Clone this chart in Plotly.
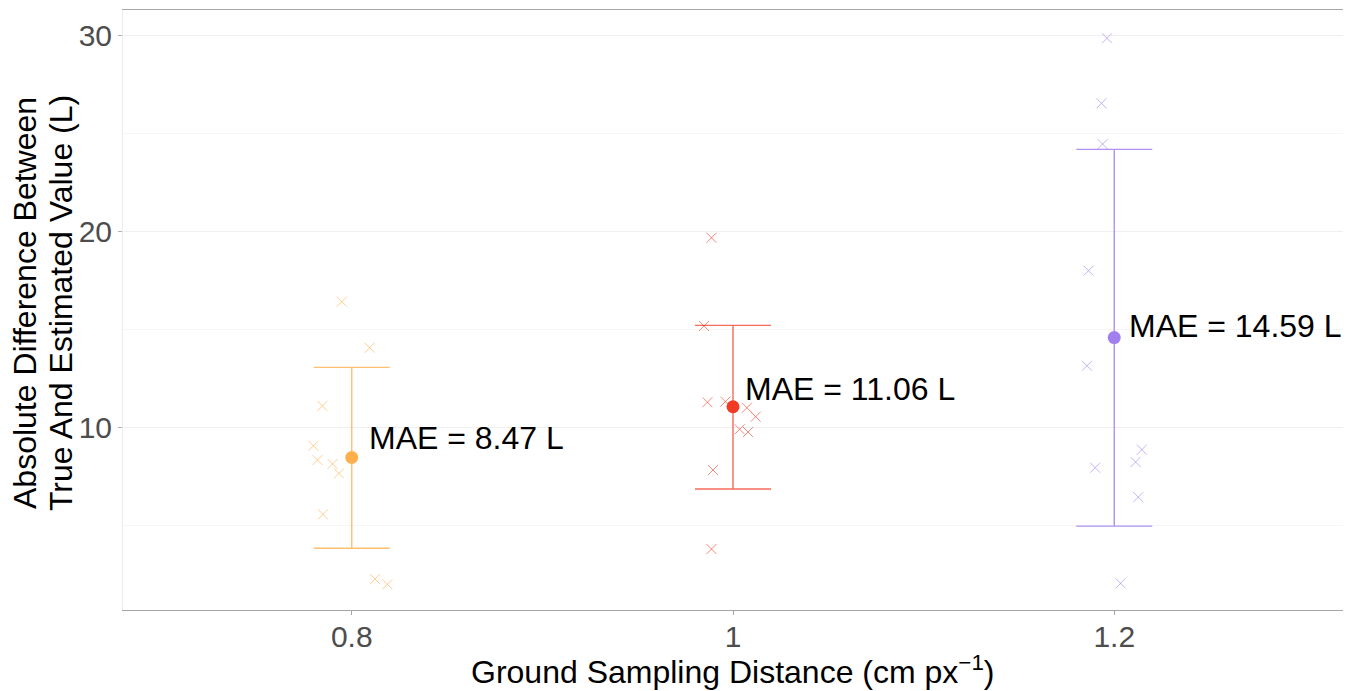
import plotly.graph_objects as go

# ---- data ----
gsd = [0.8, 1.0, 1.2]
mae = [8.47, 11.06, 14.59]
bar_lo = [3.84, 6.86, 4.97]
bar_hi = [13.07, 15.21, 24.19]
mae_labels = ["MAE = 8.47 L", "MAE = 11.06 L", "MAE = 14.59 L"]

err_08 = [16.42, 14.07, 11.10, 9.07, 8.34, 8.14, 7.66, 5.57, 2.27, 2.00]
jit_08 = [-0.0052, 0.0094, -0.0154, -0.0201, -0.0180, -0.0101, -0.0067, -0.0151, 0.0122, 0.0187]
err_10 = [19.68, 15.18, 11.29, 11.32, 11.01, 10.55, 9.91, 9.77, 7.83, 3.80]
jit_10 = [-0.0113, -0.0152, -0.0134, -0.0040, 0.0073, 0.0119, 0.0035, 0.0079, -0.0105, -0.0113]
err_12 = [29.86, 26.54, 24.46, 18.00, 13.15, 8.87, 8.24, 7.95, 6.45, 2.05]
jit_12 = [-0.0038, -0.0067, -0.0061, -0.0135, -0.0143, 0.0145, 0.0112, -0.0100, 0.0126, 0.0033]

y_ticks = [10, 20, 30]

# ---- styles ----
colors = ["#FFAF4B", "#F23B24", "#A17FED"]
cross_rgba = ["rgba(255,175,75,0.6)", "rgba(242,59,36,0.6)", "rgba(161,127,237,0.6)"]
bar_rgba = ["rgba(255,175,75,0.8)", "rgba(242,59,36,0.75)", "rgba(161,127,237,0.85)"]
label_shift = [(15, 20), (10, 18), (13, 12)]
FONT = "Liberation Sans, Arial, sans-serif"

groups = [(err_08, jit_08), (err_10, jit_10), (err_12, jit_12)]

fig = go.Figure()

for i, (vals, jit) in enumerate(groups):
    xs = [gsd[i] + j for j in jit]
    fig.add_trace(go.Scatter(
        x=xs, y=vals, mode="markers",
        marker=dict(symbol="x-thin", size=10,
                    line=dict(width=1, color=cross_rgba[i]),
                    color=cross_rgba[i]),
        showlegend=False, hoverinfo="x+y"))

for i in range(3):
    fig.add_trace(go.Scatter(
        x=[gsd[i]], y=[mae[i]], mode="markers",
        marker=dict(symbol="circle", size=13, color=colors[i]),
        error_y=dict(type="data", symmetric=False,
                     array=[bar_hi[i] - mae[i]],
                     arrayminus=[mae[i] - bar_lo[i]],
                     width=38, thickness=1.4, color=bar_rgba[i]),
        showlegend=False))
    fig.add_annotation(
        x=gsd[i], y=mae[i], text=mae_labels[i], showarrow=False,
        xanchor="left", yanchor="middle",
        xshift=label_shift[i][0], yshift=label_shift[i][1],
        font=dict(family=FONT, size=32, color="#000000"))

# axis titles as annotations
fig.add_annotation(
    xref="paper", yref="paper", x=0.5, y=-0.1,
    text="Ground Sampling Distance (cm px<sup>−1</sup>)", showarrow=False,
    xanchor="center", yanchor="middle",
    font=dict(family=FONT, size=32, color="#000000"))
fig.add_annotation(
    xref="paper", yref="paper", x=-0.0803, y=0.5117,
    text="Absolute Difference Between", showarrow=False, textangle=-90,
    xanchor="center", yanchor="middle",
    font=dict(family=FONT, size=32, color="#000000"))
fig.add_annotation(
    xref="paper", yref="paper", x=-0.0508, y=0.5117,
    text="True And Estimated Value (L)", showarrow=False, textangle=-90,
    xanchor="center", yanchor="middle",
    font=dict(family=FONT, size=32, color="#000000"))

fig.update_layout(
    width=1357, height=691,
    margin=dict(l=123, r=14, t=10, b=81),
    plot_bgcolor="white", paper_bgcolor="white",
    font=dict(family=FONT),
    xaxis=dict(
        range=[0.68, 1.32], tickvals=gsd, ticktext=["0.8", "1", "1.2"],
        showgrid=False, zeroline=False,
        showline=True, mirror=True, linecolor="#a6a6a6", linewidth=1,
        ticks="outside", ticklen=4, tickcolor="#a6a6a6",
        ticklabelstandoff=-4,
        tickfont=dict(family=FONT, size=30, color="#4d4d4d")),
    yaxis=dict(
        range=[0.69, 31.3], tickvals=y_ticks,
        showgrid=True, gridcolor="#efefef", gridwidth=1,
        minor=dict(dtick=5, tick0=0, showgrid=True, gridcolor="#f5f5f5", gridwidth=1),
        zeroline=False,
        showline=True, linecolor="#ececec", linewidth=1,
        ticks="outside", ticklen=4, tickcolor="#b0b0b0",
        tickfont=dict(family=FONT, size=30, color="#4d4d4d")),
)

fig.write_html(
    "out.html",
    config={"displayModeBar": False},
    post_script="document.body.style.margin='0';document.body.style.overflow='hidden';",
)
